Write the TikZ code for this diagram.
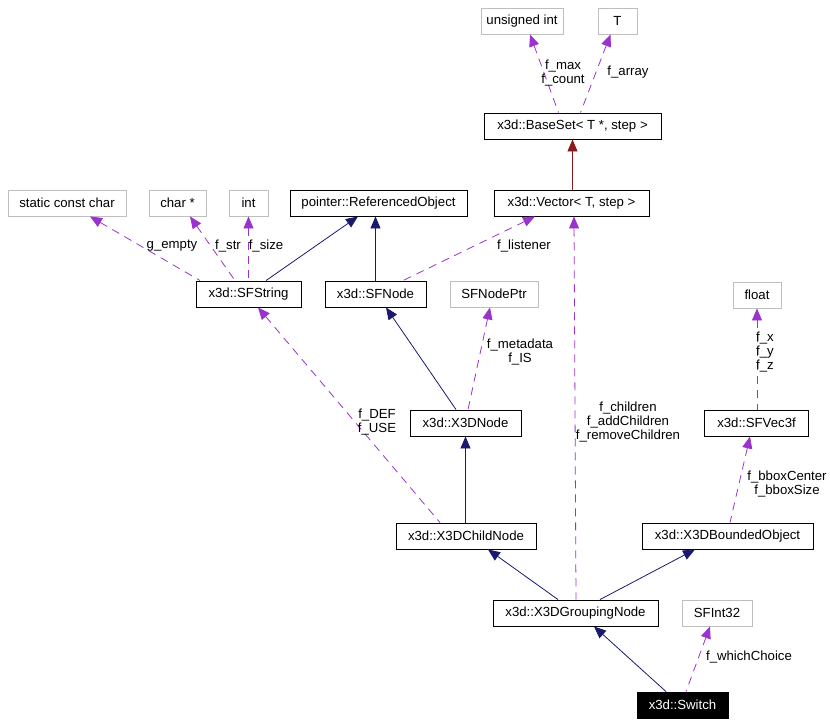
\documentclass[tikz,border=0pt]{standalone}
\usepackage{fontspec}
\setmainfont{Liberation Sans}
\usetikzlibrary{arrows.meta}
\definecolor{depc}{HTML}{9A32CD}
\definecolor{inhc}{HTML}{191970}
\definecolor{tmplc}{HTML}{8B1A1A}
\definecolor{grayb}{HTML}{BFBFBF}
\begin{document}
\begin{tikzpicture}[x=1pt,y=-1pt,
  box/.style={draw=black, line width=0.9pt, minimum height=26pt, inner sep=0pt, font=\fontsize{13.2}{14.3}\selectfont},
  ext/.style={box, draw=grayb},
  lbl/.style={font=\fontsize{13.2}{14.3}\selectfont, align=center, inner sep=0pt},
  inhe/.style={draw=inhc, line width=0.8pt, {Triangle[length=12pt,width=10pt]}-},
  tmple/.style={draw=tmplc, line width=0.8pt, {Triangle[length=12pt,width=10pt]}-},
  depe/.style={draw=depc, line width=0.8pt, dash pattern=on 8pt off 6pt, {Triangle[length=12pt,width=10pt]}-}
]
\useasboundingbox (0,0) rectangle (830,724);
% nodes
\node[ext, minimum width=82pt] (uint) at (522,21) {unsigned int};
\node[ext, minimum width=39pt] (T) at (617.5,21) {T};
\node[box, minimum width=177pt] (baseset) at (572.5,126) {x3d::BaseSet< T *, step >};
\node[ext, minimum width=118pt] (scc) at (67,203) {static const char};
\node[ext, minimum width=57pt] (charp) at (177.5,203) {char *};
\node[ext, minimum width=39pt] (int) at (248.5,203) {int};
\node[box, minimum width=177pt] (refobj) at (378.5,203) {pointer::ReferencedObject};
\node[box, minimum width=155pt] (vector) at (571.5,203) {x3d::Vector< T, step >};
\node[box, minimum width=105pt] (sfstring) at (248.5,294) {x3d::SFString};
\node[box, minimum width=101pt] (sfnode) at (375.5,294) {x3d::SFNode};
\node[ext, minimum width=88pt] (sfnodeptr) at (494,294) {SFNodePtr};
\node[ext, minimum width=48pt] (float) at (757,295) {float};
\node[box, minimum width=111pt] (x3dnode) at (465.5,423) {x3d::X3DNode};
\node[box, minimum width=104pt] (sfvec) at (756.5,423) {x3d::SFVec3f};
\node[box, minimum width=140pt] (child) at (466,536) {x3d::X3DChildNode};
\node[box, minimum width=171pt] (bounded) at (727.5,536) {x3d::X3DBoundedObject};
\node[box, minimum width=165pt] (grouping) at (575.5,613) {x3d::X3DGroupingNode};
\node[ext, minimum width=70pt] (sfint) at (717,613) {SFInt32};
\node[box, fill=black, text=white, minimum width=91pt] (switch) at (682.5,705) {x3d::Switch};
% edges
\draw[depe] ([xshift=8pt]uint.south) -- ([xshift=-14pt]baseset.north);
\draw[depe] ([xshift=-7pt]T.south) -- ([xshift=8pt]baseset.north);
\draw[tmple] (baseset.south) -- (baseset.south |- vector.north);
\draw[depe] ([xshift=23pt]scc.south) -- ([xshift=-48.5pt]sfstring.north);
\draw[depe] ([xshift=12.5pt]charp.south) -- ([xshift=-13.5pt]sfstring.north);
\draw[depe] (int.south) -- (sfstring.north);
\draw[inhe] ([xshift=-20.5pt]refobj.south) -- ([xshift=17.5pt]sfstring.north);
\draw[inhe] (refobj.south -| sfnode.north) -- (sfnode.north);
\draw[depe] ([xshift=-36.5pt]vector.south) -- ([xshift=27.5pt]sfnode.north);
\draw[depe] ([xshift=-4pt]sfnodeptr.south) -- ([xshift=2.5pt]x3dnode.north);
\draw[inhe] ([xshift=10.5pt]sfnode.south) -- ([xshift=-9.5pt]x3dnode.north);
\draw[depe] ([xshift=9.5pt]sfstring.south) -- ([xshift=-26pt]child.north);
\draw[inhe] (x3dnode.south) -- (x3dnode.south |- child.north);
\draw[depe] ([xshift=2.5pt]vector.south) -- ([xshift=0.5pt]grouping.north);
\draw[depe] (float.south) -- (float.south |- sfvec.north);
\draw[depe] ([xshift=-6.5pt]sfvec.south) -- ([xshift=2.5pt]bounded.north);
\draw[inhe] ([xshift=22pt]child.south) -- ([xshift=-17.5pt]grouping.north);
\draw[inhe] ([xshift=-32.5pt]bounded.south) -- ([xshift=24.5pt]grouping.north);
\draw[inhe] ([xshift=18.5pt]grouping.south) -- ([xshift=-16.5pt]switch.north);
\draw[depe] ([xshift=-7pt]sfint.south) -- ([xshift=3.5pt]switch.north);
% labels
\node[lbl] (l1) at (563,73) {f\_max\\f\_count};
\node[lbl] (l2) at (628,72) {f\_array};
\node[lbl] (l3) at (172,246) {g\_empty};
\node[lbl] (l4) at (228,246) {f\_str};
\node[lbl] (l5) at (266,246) {f\_size};
\node[lbl] (l6) at (524,246) {f\_listener};
\node[lbl] (l7) at (520,352) {f\_metadata\\f\_IS};
\node[lbl] (l8) at (377,422) {f\_DEF\\f\_USE};
\node[lbl] (l9) at (628,422) {f\_children\\f\_addChildren\\f\_removeChildren};
\node[lbl] (l10) at (765,352) {f\_x\\f\_y\\f\_z};
\node[lbl] (l11) at (787,484) {f\_bboxCenter\\f\_bboxSize};
\node[lbl] (l12) at (749,657) {f\_whichChoice};
\end{tikzpicture}
\end{document}
